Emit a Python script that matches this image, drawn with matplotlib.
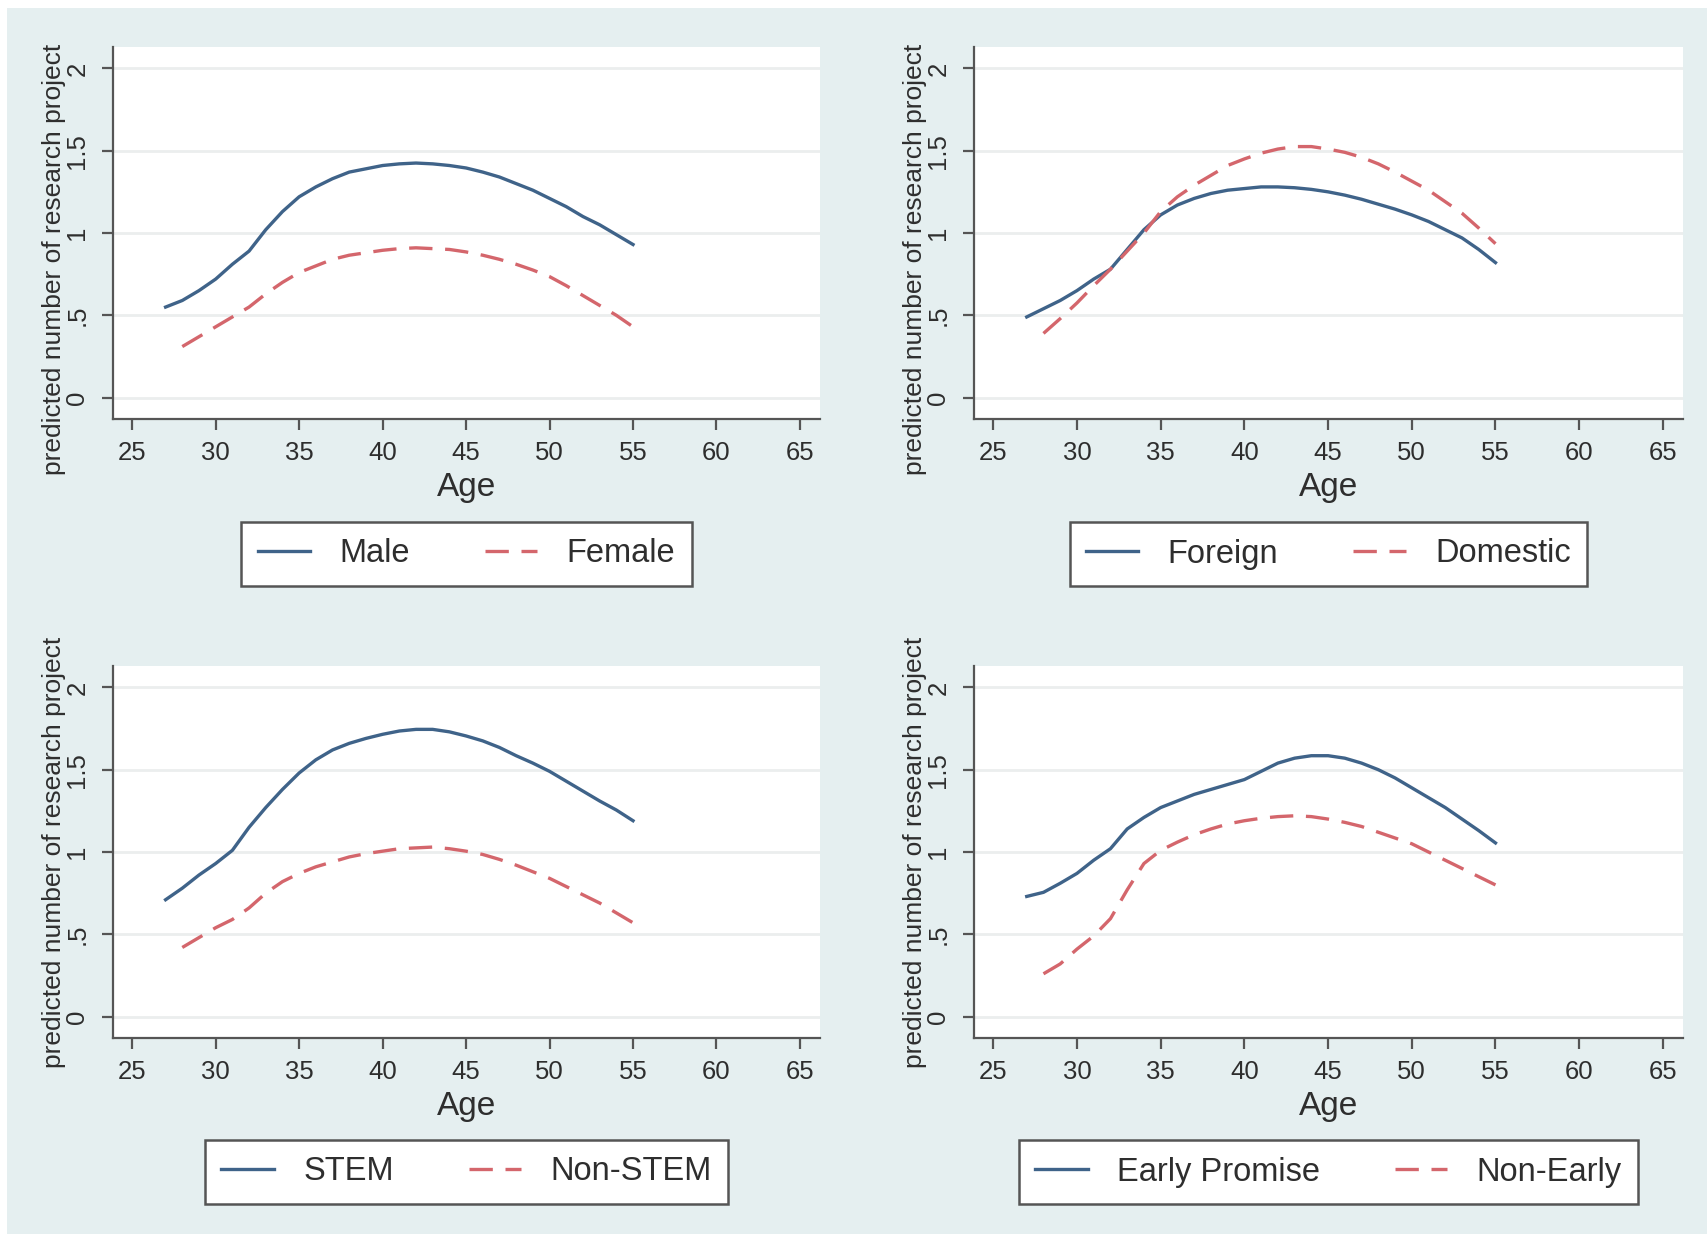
import matplotlib
matplotlib.use("Agg")
import matplotlib.pyplot as plt
from matplotlib.patches import Rectangle
import numpy as np

plt.rcParams['font.family'] = ['Liberation Sans', 'DejaVu Sans']

# ages
age_blue = list(range(27, 56))
age_red = list(range(28, 56))

# top left: gender
male = [0.55, 0.59, 0.65, 0.72, 0.81, 0.89, 1.02, 1.13, 1.22, 1.28, 1.33, 1.37, 1.39, 1.41, 1.42,
        1.425, 1.42, 1.41, 1.395, 1.37, 1.34, 1.30, 1.26, 1.21, 1.16, 1.10, 1.05, 0.99, 0.93]
female = [0.31, 0.37, 0.43, 0.49, 0.55, 0.63, 0.70, 0.76, 0.80, 0.84, 0.865, 0.88, 0.895, 0.905,
          0.91, 0.905, 0.90, 0.885, 0.865, 0.84, 0.81, 0.775, 0.735, 0.68, 0.62, 0.56, 0.50, 0.43]

# top right: origin
foreign = [0.49, 0.54, 0.59, 0.65, 0.72, 0.78, 0.90, 1.02, 1.11, 1.17, 1.21, 1.24, 1.26, 1.27, 1.28,
           1.28, 1.275, 1.265, 1.25, 1.23, 1.205, 1.175, 1.145, 1.11, 1.07, 1.02, 0.97, 0.90, 0.82]
domestic = [0.39, 0.48, 0.575, 0.68, 0.78, 0.89, 1.00, 1.13, 1.22, 1.29, 1.35, 1.41, 1.45, 1.485,
            1.51, 1.525, 1.525, 1.51, 1.49, 1.46, 1.42, 1.37, 1.315, 1.26, 1.19, 1.12, 1.03, 0.935]

# bottom left: field
stem = [0.71, 0.78, 0.86, 0.93, 1.01, 1.15, 1.27, 1.38, 1.48, 1.56, 1.62, 1.66, 1.69, 1.715, 1.735,
        1.745, 1.745, 1.73, 1.705, 1.675, 1.635, 1.585, 1.54, 1.49, 1.43, 1.37, 1.31, 1.255, 1.19]
non_stem = [0.42, 0.48, 0.54, 0.59, 0.66, 0.75, 0.82, 0.87, 0.91, 0.94, 0.97, 0.99, 1.005, 1.02,
            1.025, 1.03, 1.02, 1.005, 0.985, 0.955, 0.92, 0.88, 0.84, 0.79, 0.74, 0.69, 0.63, 0.57]

# bottom right: early promise
early = [0.73, 0.755, 0.81, 0.87, 0.95, 1.02, 1.14, 1.21, 1.27, 1.31, 1.35, 1.38, 1.41, 1.44, 1.49,
         1.54, 1.57, 1.585, 1.585, 1.57, 1.54, 1.50, 1.45, 1.39, 1.33, 1.27, 1.20, 1.13, 1.055]
non_early = [0.26, 0.32, 0.41, 0.49, 0.595, 0.77, 0.93, 1.01, 1.06, 1.105, 1.14, 1.17, 1.19, 1.205,
             1.215, 1.22, 1.215, 1.20, 1.18, 1.155, 1.12, 1.085, 1.05, 1.00, 0.95, 0.90, 0.85, 0.80]

xticks = [25, 30, 35, 40, 45, 50, 55, 60, 65]
yticks = [0, 0.5, 1, 1.5, 2]
ytick_labels = ['0', '.5', '1', '1.5', '2']

panels = [
    (male, female, ('Male', 'Female')),
    (foreign, domestic, ('Foreign', 'Domestic')),
    (stem, non_stem, ('STEM', 'Non-STEM')),
    (early, non_early, ('Early Promise', 'Non-Early')),
]

W, H = 1708, 1234
BG = '#e5eff0'
BLUE = '#3f6389'
RED = '#d4666c'
AXC = '#555555'
TXT = '#2e2e2e'

# axes boxes in pixels: left, right, top, bottom
boxes = [(113, 820, 47, 419), (974, 1683, 47, 419),
         (113, 820, 666, 1038), (974, 1683, 666, 1038)]
ylab_y = [0.43, 0.43, 0.5, 0.5]
legend_y = [554, 554, 1172, 1172]


def px_rect(l, r, t, b):
    return [l / W, 1 - b / H, (r - l) / W, (b - t) / H]


fig = plt.figure(figsize=(W / 100, H / 100), dpi=100, facecolor='white')
fig.patches.append(Rectangle((7 / W, 0), 1, 1 - 8 / H, transform=fig.transFigure,
                             facecolor=BG, edgecolor='none', zorder=-10))

for i, (blue, red, labels) in enumerate(panels):
    l, r, t, b = boxes[i]
    ax = fig.add_axes(px_rect(l, r, t, b))
    ax.set_facecolor('white')
    ax.plot(age_blue, blue, color=BLUE, lw=2.4, label=labels[0], solid_joinstyle='round')
    ax.plot(age_red, red, color=RED, lw=2.4, dashes=(7, 3.8), label=labels[1])

    ax.set_xlim(23.85, 66.2)
    ax.set_ylim(-0.13, 2.13)
    ax.set_xticks(xticks)
    ax.set_yticks(yticks)
    ax.set_yticklabels(ytick_labels, rotation=90, va='center')
    ax.grid(axis='y', color='#ebeeee', lw=2.0)
    ax.set_axisbelow(True)

    for side in ['top', 'right']:
        ax.spines[side].set_visible(False)
    for side in ['left', 'bottom']:
        ax.spines[side].set_color(AXC)
        ax.spines[side].set_linewidth(1.6)
    ax.tick_params(axis='both', length=8, width=1.6, color=AXC, labelsize=18.5,
                   labelcolor=TXT)
    ax.tick_params(axis='x', pad=8)
    ax.tick_params(axis='y', pad=9)

    ax.set_xlabel('Age', fontsize=24, color=TXT)
    ax.xaxis.set_label_coords(0.5, -0.185)
    ax.xaxis.label.set_va('center')
    ax.set_ylabel('predicted number of research project', fontsize=19, color=TXT)
    ax.yaxis.set_label_coords(-0.083, ylab_y[i])
    ax.yaxis.label.set_va('center')

    cx = (l + r) / 2 / W
    cy = 1 - legend_y[i] / H
    leg = fig.legend(*ax.get_legend_handles_labels(), loc='center', bbox_to_anchor=(cx, cy),
                     ncol=2, fontsize=23.5, frameon=True, fancybox=False, handlelength=1.6,
                     handletextpad=0.9, columnspacing=2.3, borderpad=0.5,
                     bbox_transform=fig.transFigure)
    frame = leg.get_frame()
    frame.set_edgecolor('#555555')
    frame.set_linewidth(1.8)
    frame.set_facecolor('white')
    frame.set_alpha(1)
    for txt in leg.get_texts():
        txt.set_color(TXT)

fig.savefig('out.png', dpi=100, facecolor=fig.get_facecolor())
